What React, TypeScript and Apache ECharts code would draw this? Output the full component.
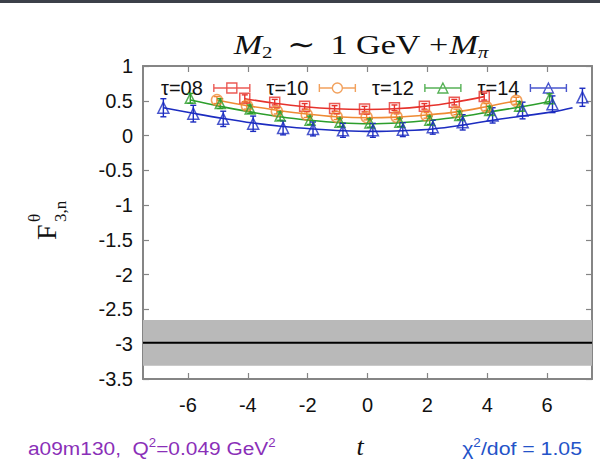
import React, { useEffect, useRef } from "react";
import * as echarts from "echarts";

// ---- data ----
const TAU_LABELS = ["τ=08", "τ=10", "τ=12", "τ=14"];
const COLORS = ["#e6322c", "#ef8a34", "#2c9e2c", "#1c2cc0"];
const T_SHIFT = [-0.1, -0.03, 0.08, 0.18];
const SYMBOLS = ["rect", "circle", "triangle", "triangle"];
const SYMBOL_SIZES = [10, 11, 10, 11];

const T08 = [-4, -3, -2, -1, 0, 1, 2, 3, 4];
const F08 = [0.535, 0.48, 0.42, 0.39, 0.38, 0.4, 0.42, 0.48, 0.56];
const E08 = [0.05, 0.04, 0.04, 0.04, 0.04, 0.04, 0.04, 0.04, 0.05];
const FIT08 = [0.53, 0.465, 0.415, 0.385, 0.375, 0.385, 0.42, 0.48, 0.56];

const T10 = [-5, -4, -3, -2, -1, 0, 1, 2, 3, 4, 5];
const F10 = [0.51, 0.43, 0.35, 0.3, 0.27, 0.265, 0.27, 0.29, 0.34, 0.41, 0.5];
const E10 = [0.05, 0.05, 0.04, 0.04, 0.04, 0.04, 0.04, 0.04, 0.04, 0.05, 0.05];
const FIT10 = [0.51, 0.43, 0.365, 0.31, 0.27, 0.255, 0.265, 0.295, 0.34, 0.415, 0.5];

const T12 = [-6, -5, -4, -3, -2, -1, 0, 1, 2, 3, 4, 5, 6];
const F12 = [0.535, 0.46, 0.38, 0.28, 0.22, 0.19, 0.18, 0.19, 0.22, 0.29, 0.36, 0.42, 0.53];
const E12 = [0.07, 0.07, 0.06, 0.06, 0.06, 0.06, 0.06, 0.06, 0.06, 0.06, 0.06, 0.07, 0.07];
const FIT12 = [0.51, 0.42, 0.34, 0.27, 0.22, 0.185, 0.17, 0.185, 0.22, 0.27, 0.34, 0.41, 0.49];

const T14 = [-7, -6, -5, -4, -3, -2, -1, 0, 1, 2, 3, 4, 5, 6, 7];
const F14 = [0.4, 0.315, 0.24, 0.17, 0.11, 0.095, 0.075, 0.075, 0.085, 0.12, 0.19, 0.29, 0.36, 0.45, 0.55];
const E14 = [0.13, 0.12, 0.11, 0.11, 0.1, 0.1, 0.1, 0.1, 0.1, 0.1, 0.11, 0.11, 0.12, 0.12, 0.13];
const FIT14_T = [-7, -6, -5, -4, -3, -2, -1, 0, 1, 2, 3, 4, 5, 6, 6.67];
const FIT14 = [0.4, 0.32, 0.245, 0.18, 0.13, 0.095, 0.07, 0.06, 0.07, 0.095, 0.15, 0.22, 0.28, 0.34, 0.4];

const BAND_CENTER = -2.98;
const BAND_HIGH = -2.65;
const BAND_LOW = -3.31;

const X_TICKS = [-6, -4, -2, 0, 2, 4, 6];
const X_MIN = -7.5;
const X_MAX = 7.5;
const Y_MIN = -3.5;
const Y_MAX = 1;
const Y_STEP = 0.5;

const GROUPS = [
  { t: T08, f: F08, e: E08, fitT: T08, fit: FIT08 },
  { t: T10, f: F10, e: E10, fitT: T10, fit: FIT10 },
  { t: T12, f: F12, e: E12, fitT: T12, fit: FIT12 },
  { t: T14, f: F14, e: E14, fitT: FIT14_T, fit: FIT14 },
];

// legend icons: horizontal error bar with caps + open marker
const ICONS = [
  "path://M0,8L36,8M0,4L0,12M36,4L36,12M13,3L23,3L23,13L13,13Z",
  "path://M0,8L13,8M23,8L36,8M0,4L0,12M36,4L36,12M23,8A5,5,0,1,1,13,8A5,5,0,1,1,23,8Z",
  "path://M0,8L36,8M0,4L0,12M36,4L36,12M13,13L18,3L23,13Z",
  "path://M0,8L36,8M0,4L0,12M36,4L36,12M13,13L18,3L23,13Z",
];

const SANS = "'Liberation Sans', Arial, sans-serif";
const SERIF = "'Liberation Serif', 'DejaVu Serif', serif";
const FRAME = "#858585";

export default function App() {
  const ref = useRef<HTMLDivElement>(null);

  useEffect(() => {
    if (!ref.current) return;
    const chart = echarts.init(ref.current, null, { renderer: "svg" });

    const series: any[] = [];
    GROUPS.forEach((g, i) => {
      const color = COLORS[i];
      const shift = T_SHIFT[i];
      series.push({
        type: "scatter",
        name: TAU_LABELS[i],
        data: g.t.map((t, k) => [t + shift, g.f[k]]),
        symbol: SYMBOLS[i],
        symbolSize: SYMBOL_SIZES[i],
        itemStyle: { color: "rgba(255,255,255,0)", borderColor: color, borderWidth: 1.5 },
        z: 5,
      });
      series.push({
        type: "custom",
        name: TAU_LABELS[i],
        data: g.t.map((t, k) => [t + shift, g.f[k], g.e[k]]),
        encode: { x: 0, y: 1 },
        renderItem: (params: any, api: any) => {
          const x = api.value(0);
          const y = api.value(1);
          const e = api.value(2);
          const p1 = api.coord([x, y + e]);
          const p2 = api.coord([x, y - e]);
          const w = 3;
          const style = { stroke: color, lineWidth: 1.4 };
          return {
            type: "group",
            children: [
              { type: "line", shape: { x1: p1[0], y1: p1[1], x2: p2[0], y2: p2[1] }, style },
              { type: "line", shape: { x1: p1[0] - w, y1: p1[1], x2: p1[0] + w, y2: p1[1] }, style },
              { type: "line", shape: { x1: p2[0] - w, y1: p2[1], x2: p2[0] + w, y2: p2[1] }, style },
            ],
          };
        },
        z: 4,
      });
      series.push({
        type: "line",
        name: TAU_LABELS[i],
        data: g.fitT.map((t, k) => [t + shift, g.fit[k]]),
        smooth: 0.4,
        showSymbol: false,
        symbol: "none",
        lineStyle: { color, width: 1.6 },
        z: 3,
      });
    });

    series.push({
      type: "line",
      name: "band",
      data: [
        [X_MIN, BAND_CENTER],
        [X_MAX, BAND_CENTER],
      ],
      symbol: "none",
      lineStyle: { color: "#000", width: 2 },
      z: 2,
      markArea: {
        silent: true,
        itemStyle: { color: "#b9b9b9" },
        data: [[{ yAxis: BAND_HIGH }, { yAxis: BAND_LOW }]],
      },
    });

    const axisLine = { show: true, onZero: false, lineStyle: { color: FRAME, width: 2 } };
    const tick = { show: true, inside: true, length: 6, lineStyle: { color: FRAME, width: 1.2 } };

    const option: any = {
      animation: false,
      backgroundColor: "#fff",
      textStyle: { fontFamily: SANS },
      grid: { left: 143, right: 8, top: 66, bottom: 81 },
      xAxis: [
        {
          type: "value",
          position: "bottom",
          min: X_MIN,
          max: X_MAX,
          axisLine,
          axisTick: { ...tick, customValues: X_TICKS },
          axisLabel: { customValues: X_TICKS, fontSize: 20, color: "#111", margin: 16, fontFamily: SANS },
          splitLine: { show: false },
        },
        {
          type: "value",
          position: "top",
          min: X_MIN,
          max: X_MAX,
          axisLine,
          axisTick: { ...tick, customValues: X_TICKS },
          axisLabel: { show: false, customValues: X_TICKS },
          splitLine: { show: false },
        },
      ],
      yAxis: [
        {
          type: "value",
          position: "left",
          min: Y_MIN,
          max: Y_MAX,
          interval: Y_STEP,
          axisLine,
          axisTick: tick,
          axisLabel: { fontSize: 20, color: "#111", margin: 10, fontFamily: SANS },
          splitLine: { show: false },
        },
        {
          type: "value",
          position: "right",
          min: Y_MIN,
          max: Y_MAX,
          interval: Y_STEP,
          axisLine,
          axisTick: tick,
          axisLabel: { show: false },
          splitLine: { show: false },
        },
      ],
      legend: {
        left: 156,
        top: 73,
        align: "right",
        itemGap: 16,
        itemWidth: 36,
        itemHeight: 10,
        selectedMode: false,
        textStyle: { fontSize: 20, color: "#111", fontFamily: SANS, padding: [0, 6, 0, 0] },
        data: TAU_LABELS.map((name, i) => ({
          name,
          icon: ICONS[i],
          itemStyle: { color: "rgba(255,255,255,0)", borderColor: COLORS[i], borderWidth: 1.4 },
        })),
      },
      graphic: [
        { type: "rect", shape: { x: 0, y: 0, width: 600, height: 3 }, style: { fill: "#3c4049" }, silent: true },
        {
          type: "text",
          x: 361,
          y: 45,
          scaleX: 1.22,
          style: {
            text: "{it|M}{sub|2}{rm|∼}{one|1}{gev|GeV}{plus|+}{it|M}{subi|π}",
            align: "center",
            verticalAlign: "middle",
            fill: "#111",
            rich: {
              it: { fontFamily: SERIF, fontStyle: "italic", fontSize: 28, lineHeight: 34 },
              sub: { fontFamily: SERIF, fontSize: 17, lineHeight: 17, padding: [14, 12, 0, 0] },
              subi: { fontFamily: SERIF, fontStyle: "italic", fontSize: 17, lineHeight: 17, padding: [14, 0, 0, 0] },
              rm: { fontFamily: SERIF, fontSize: 28, lineHeight: 34, padding: [0, 12, 0, 0] },
              one: { fontFamily: SERIF, fontSize: 28, lineHeight: 34, padding: [0, 7, 0, 0] },
              gev: { fontFamily: SERIF, fontSize: 28, lineHeight: 34, padding: [0, 7, 0, 0] },
              plus: { fontFamily: SERIF, fontSize: 28, lineHeight: 34, padding: [0, 1, 0, 0] },
            },
          },
        },
        {
          type: "group",
          x: 46,
          y: 240,
          rotation: Math.PI / 2,
          children: [
            { type: "text", x: 0, y: 0, style: { text: "F", fontFamily: SERIF, fontSize: 28, fill: "#111", align: "left", verticalAlign: "middle" } },
            { type: "text", x: 18, y: -12, style: { text: "θ", fontFamily: SERIF, fontSize: 17, fill: "#111", align: "left", verticalAlign: "middle" } },
            { type: "text", x: 18, y: 14, style: { text: "3,n", fontFamily: SERIF, fontSize: 17, fill: "#111", align: "left", verticalAlign: "middle" } },
          ],
        },
        {
          type: "text",
          x: 28,
          y: 448,
          scaleX: 1.1,
          style: {
            text: "{a|a09m130,  Q}{s|2}{a|=0.049 GeV}{s|2}",
            align: "left",
            verticalAlign: "middle",
            fill: "#8a2fb8",
            rich: {
              a: { fontFamily: SANS, fontSize: 19, lineHeight: 24, fill: "#8a2fb8" },
              s: { fontFamily: SANS, fontSize: 12, lineHeight: 12, padding: [0, 0, 10, 0], fill: "#8a2fb8" },
            },
          },
        },
        {
          type: "text",
          x: 360,
          y: 446,
          style: { text: "t", fontFamily: SERIF, fontStyle: "italic", fontSize: 26, fill: "#111", align: "center", verticalAlign: "middle" },
        },
        {
          type: "text",
          x: 582,
          y: 448,
          scaleX: 1.12,
          style: {
            text: "{a|χ}{s|2}{a|/dof = 1.05}",
            align: "right",
            verticalAlign: "middle",
            fill: "#2453c8",
            rich: {
              a: { fontFamily: SANS, fontSize: 19, lineHeight: 24, fill: "#2453c8" },
              s: { fontFamily: SANS, fontSize: 12, lineHeight: 12, padding: [0, 0, 10, 0], fill: "#2453c8" },
            },
          },
        },
      ],
      series,
    };

    chart.setOption(option);
    return () => chart.dispose();
  }, []);

  return <div ref={ref} style={{ position: "fixed", left: 0, top: 0, width: 600, height: 460 }} />;
}
